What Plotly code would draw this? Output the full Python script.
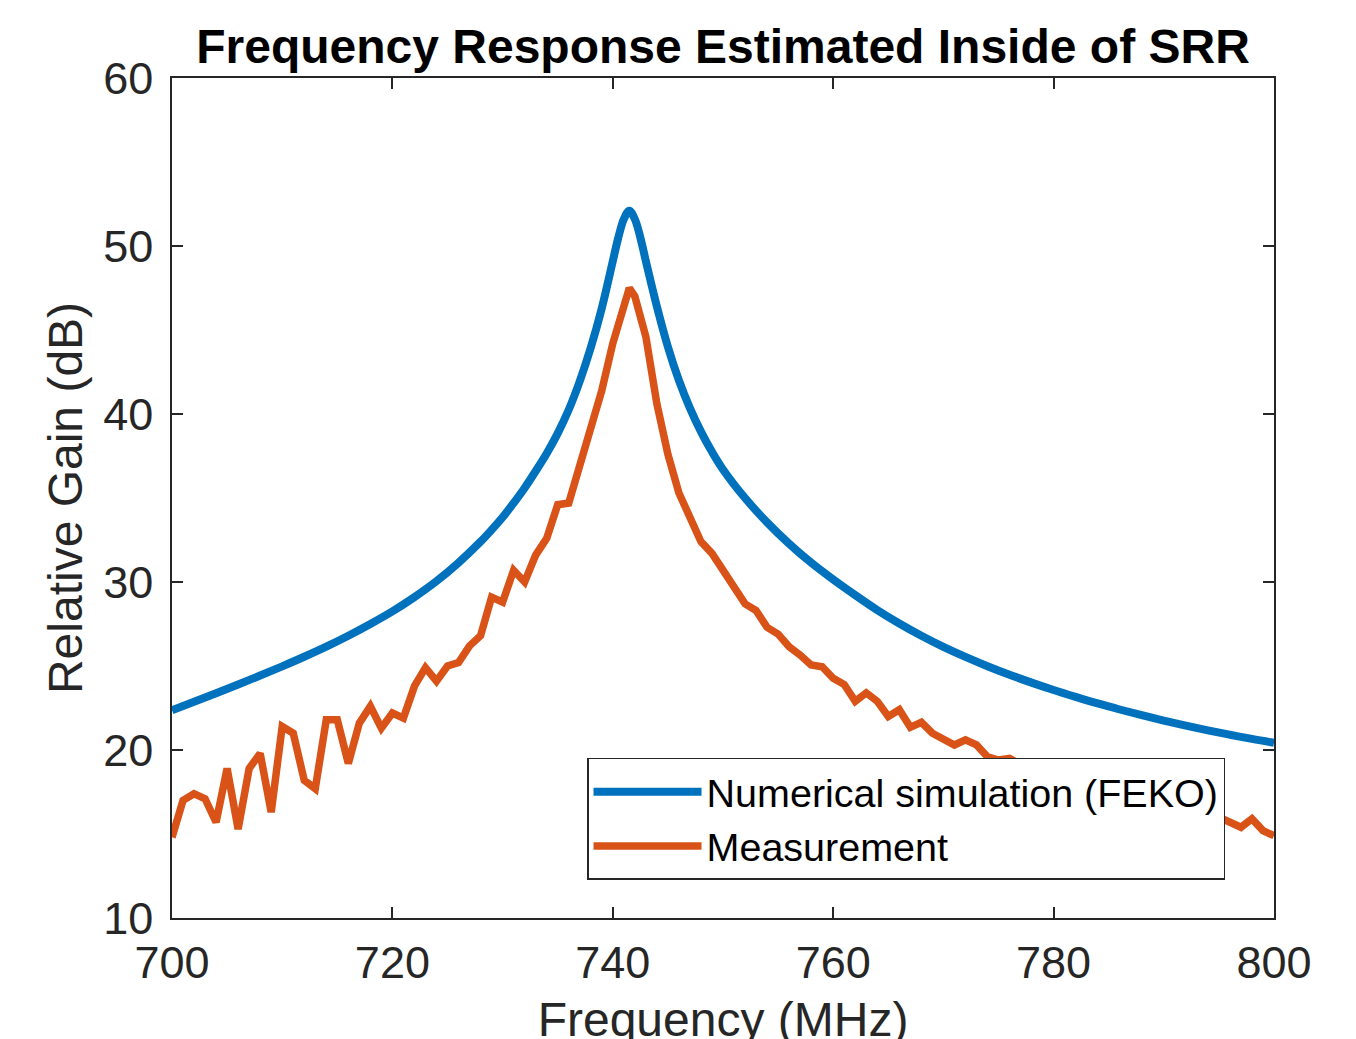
import plotly.graph_objects as go

# ------------------------------------------------------------------
# Data
# ------------------------------------------------------------------

sim_freq = [700, 702, 704, 706, 708, 710, 712, 714, 716, 718, 720, 722, 724,
            726, 728, 729, 730, 731, 732, 733, 734, 735, 736, 737, 738, 739,
            740, 740.5, 741, 741.5, 742, 742.5, 743, 744, 745, 746, 747, 748,
            749, 750, 752, 754, 756, 758, 760, 762, 764, 766, 768, 770, 772,
            774, 776, 778, 780, 782, 784, 786, 788, 790, 792, 794, 796, 798, 800]
sim_gain = [22.37, 22.87, 23.38, 23.90, 24.43, 24.98, 25.55, 26.15, 26.80,
            27.50, 28.25, 29.10, 30.05, 31.15, 32.40, 33.10, 33.85, 34.70,
            35.60, 36.60, 37.65, 38.85, 40.25, 41.95, 43.95, 46.30, 49.10,
            50.50, 51.60, 52.10, 51.60, 50.50, 49.10, 46.40, 44.00, 42.00,
            40.35, 38.95, 37.75, 36.70, 35.00, 33.55, 32.28, 31.15, 30.15,
            29.22, 28.33, 27.53, 26.80, 26.14, 25.54, 24.99, 24.48, 24.01,
            23.57, 23.16, 22.77, 22.41, 22.07, 21.75, 21.45, 21.17, 20.91,
            20.66, 20.43]

meas_freq = list(range(700, 742)) + [741.5] + list(range(742, 801))
meas_gain = [14.8, 17.0, 17.4, 17.1, 15.7, 18.9, 15.3, 18.9, 19.8, 16.3,   # 700-709
             21.4, 21.0, 18.2, 17.7, 21.8, 21.8, 19.2, 21.6, 22.6, 21.3,   # 710-719
             22.2, 21.9, 23.8, 24.9, 24.1, 25.0, 25.2, 26.2, 26.8, 29.1,   # 720-729
             28.8, 30.7, 30.0, 31.6, 32.6, 34.6, 34.7, 37.0, 39.3, 41.4,   # 730-739
             44.2, 46.6, 47.5,                                             # 740, 741, 741.5
             47.0, 44.6, 40.6, 37.6, 35.3, 33.8, 32.4, 31.7,               # 742-749
             30.7, 29.5, 28.7, 28.3, 27.3, 26.9, 26.15, 25.65, 25.06, 24.96,  # 750-759
             24.27, 23.9, 22.9, 23.4, 22.9, 22.0, 22.4, 21.35, 21.65, 21.0,   # 760-769
             20.7, 20.3, 20.6, 20.3, 19.6, 19.4, 19.5, 19.1, 18.8, 18.9,   # 770-779
             18.5, 18.3, 18.4, 18.0, 17.8, 17.9, 17.5, 17.3, 17.4, 17.0,   # 780-789
             16.8, 16.9, 16.5, 16.3, 16.4, 16.0, 15.7, 15.4, 15.9, 15.2,   # 790-799
             14.9]                                                         # 800

x_ticks = [700, 720, 740, 760, 780, 800]
y_ticks = [10, 20, 30, 40, 50, 60]

# ------------------------------------------------------------------
# Plot
# ------------------------------------------------------------------

fig = go.Figure()
fig.add_trace(go.Scatter(x=sim_freq, y=sim_gain, mode='lines',
                         name='Numerical simulation (FEKO)',
                         line=dict(color='#0072BD', width=8, shape='spline', smoothing=1.0)))
fig.add_trace(go.Scatter(x=meas_freq, y=meas_gain, mode='lines',
                         name='Measurement',
                         line=dict(color='#D95319', width=7.5)))

axis_style = dict(showline=True, linecolor='#262626', linewidth=1.5, mirror='ticks',
                  ticks='inside', ticklen=11, tickwidth=1.5, tickcolor='#262626',
                  showgrid=False, zeroline=False, automargin=False,
                  tickfont=dict(size=45, color='#262626'))

fig.update_xaxes(range=[700, 800], tickvals=x_ticks, ticklabelstandoff=4,
                 title=dict(text='Frequency (MHz)', font=dict(size=48, color='#262626'),
                            standoff=16),
                 **axis_style)
fig.update_yaxes(range=[10, 60], tickvals=y_ticks, ticklabelstandoff=8,
                 title=dict(text='Relative Gain (dB)', font=dict(size=48, color='#262626'),
                            standoff=5),
                 **axis_style)

# the page puts the figure 8px in from the top-left corner, so the margins allow for it
fig.update_layout(
    width=1356, height=1039,
    margin=dict(l=164, r=90, t=70, b=129),
    plot_bgcolor='white', paper_bgcolor='white',
    font=dict(family='Liberation Sans, Arial, sans-serif', color='#262626'),
    title=dict(text='<b>Frequency Response Estimated Inside of SRR</b>',
               x=0.5, xref='paper', xanchor='center',
               y=1 - 38 / 1039, yref='container', yanchor='middle',
               font=dict(size=48, color='black')),
    legend=dict(x=0.3766, y=0.1905, xanchor='left', yanchor='top',
                bgcolor='white', bordercolor='#262626', borderwidth=1.5,
                font=dict(size=39.5, color='black'), itemwidth=108,
                tracegroupgap=0),
)

fig.write_html("out.html")
